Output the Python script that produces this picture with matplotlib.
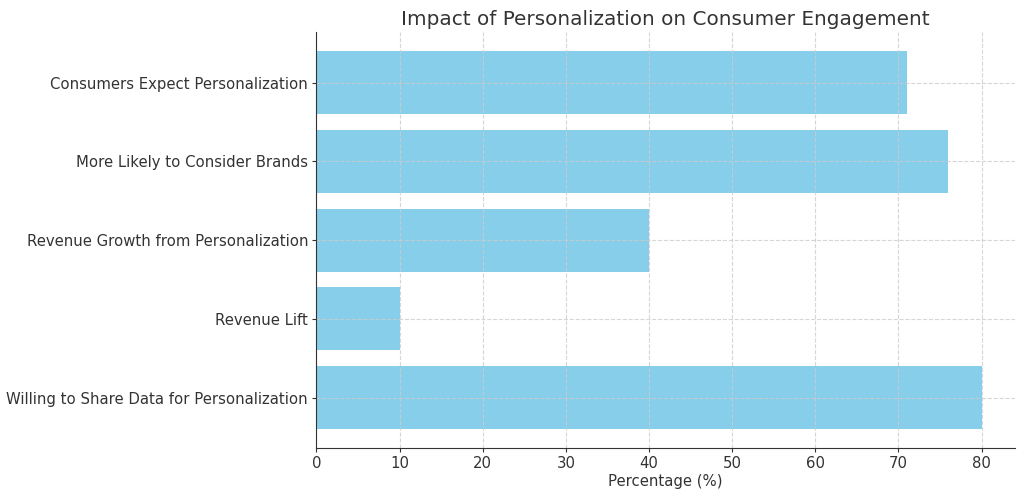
import matplotlib.pyplot as plt

categories = [
    "Consumers Expect Personalization",
    "More Likely to Consider Brands",
    "Revenue Growth from Personalization",
    "Revenue Lift",
    "Willing to Share Data for Personalization",
]
percentages = [71, 76, 40, 10, 80]

fig, ax = plt.subplots(figsize=(10.24, 4.96), dpi=100)
# bars listed top to bottom, so flip the y axis afterwards
ax.barh(categories, percentages, color="skyblue", height=0.8)
ax.invert_yaxis()

ax.set_title("Impact of Personalization on Consumer Engagement", fontsize=14.4, color="#333333", pad=5)
ax.set_xlabel("Percentage (%)", fontsize=10.7, color="#333333", labelpad=2)
ax.tick_params(labelsize=10.7, colors="#333333", length=3, pad=3)
ax.grid(True, linestyle="--", color="#cccccc", alpha=0.8)
ax.spines["top"].set_visible(False)
ax.spines["right"].set_visible(False)
ax.spines["left"].set_color("#333333")
ax.spines["bottom"].set_color("#333333")

plt.subplots_adjust(left=0.309, right=0.991, top=0.935, bottom=0.097)
plt.savefig("out.png")
